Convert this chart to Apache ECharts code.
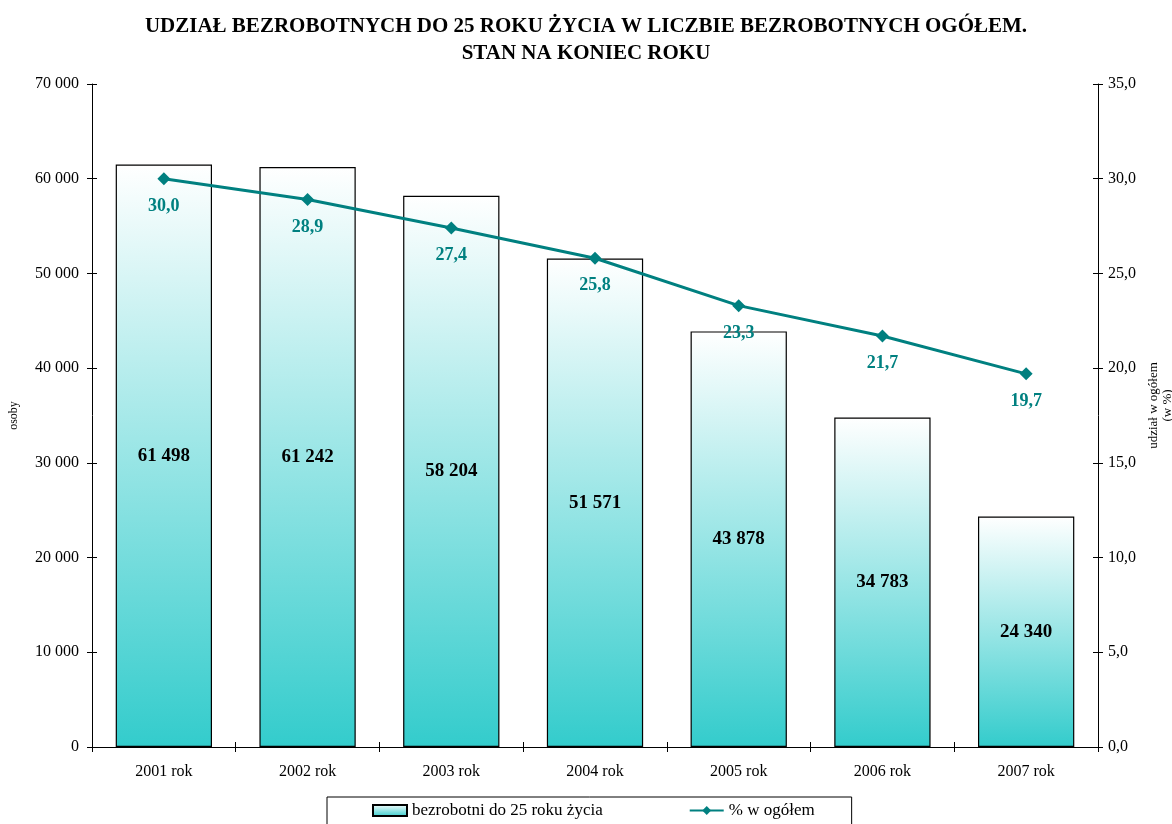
<!DOCTYPE html>
<html>
<head>
<meta charset="utf-8">
<script src="https://cdn.jsdelivr.net/npm/echarts@6/dist/echarts.min.js"></script>
<style>
  html, body { margin: 0; padding: 0; background: #fff; }
  #chart { width: 1172px; height: 824px; }
</style>
</head>
<body>
<div id="chart"></div>
<script>
  // dane
  var years = ['2001 rok', '2002 rok', '2003 rok', '2004 rok', '2005 rok', '2006 rok', '2007 rok'];
  var youngUnemployed = [61498, 61242, 58204, 51571, 43878, 34783, 24340];
  var sharePercent = [30.0, 28.9, 27.4, 25.8, 23.3, 21.7, 19.7];

  var serif = '"Liberation Serif", "DejaVu Serif", serif';
  var teal = '#008080';

  function thousands(v) {
    return String(v).replace(/\B(?=(\d{3})+(?!\d))/g, ' ');
  }
  function comma(v) {
    return Number(v).toFixed(1).replace('.', ',');
  }

  var chart = echarts.init(document.getElementById('chart'));
  var axisLine = { show: true, lineStyle: { color: '#000', width: 1 } };

  chart.setOption({
    animation: false,
    textStyle: { fontFamily: serif, color: '#000' },
    title: {
      text: 'UDZIAŁ BEZROBOTNYCH DO 25 ROKU ŻYCIA W LICZBIE BEZROBOTNYCH OGÓŁEM.\nSTAN NA KONIEC ROKU',
      left: 'center',
      top: 8,
      textStyle: { fontFamily: serif, fontSize: 21, fontWeight: 'bold', color: '#000', lineHeight: 27 }
    },
    legend: {
      left: 327,
      top: 797,
      padding: [5, 37, 14, 45],
      itemGap: 86,
      itemWidth: 34,
      itemHeight: 11,
      borderColor: '#000',
      borderWidth: 1,
      textStyle: { fontFamily: serif, fontSize: 17, color: '#000' },
      data: [
        { name: 'bezrobotni do 25 roku życia', icon: 'rect' },
        { name: '% w ogółem' }
      ]
    },
    grid: { left: 92, right: 74, top: 84, bottom: 77, outerBoundsMode: 'none' },
    xAxis: [
      {
        type: 'category',
        data: years,
        axisLine: axisLine,
        axisTick: { show: true, inside: false, length: 5, lineStyle: { color: '#000' } },
        axisLabel: { fontFamily: serif, fontSize: 16, color: '#000', margin: 17 }
      },
      {
        type: 'category',
        data: years,
        position: 'bottom',
        axisLine: { show: false },
        axisTick: { show: true, inside: true, length: 5, lineStyle: { color: '#000' } },
        axisLabel: { show: false }
      }
    ],
    yAxis: [
      {
        type: 'value',
        min: 0,
        max: 70000,
        interval: 10000,
        name: 'osoby',
        nameLocation: 'middle',
        nameRotate: 90,
        nameGap: 72,
        nameTextStyle: { fontFamily: serif, fontSize: 12, color: '#000' },
        axisLine: axisLine,
        axisTick: { show: true, length: 5, lineStyle: { color: '#000' } },
        splitLine: { show: false },
        axisLabel: { fontFamily: serif, fontSize: 16, color: '#000', margin: 13, formatter: thousands }
      },
      {
        type: 'value',
        min: 0,
        max: 35,
        interval: 5,
        position: 'right',
        name: 'udział w ogółem\n(w %)',
        nameLocation: 'middle',
        nameRotate: 90,
        nameGap: 44,
        nameTextStyle: { fontFamily: serif, fontSize: 13, color: '#000', lineHeight: 14, padding: [0, 0, 0, 20] },
        axisLine: axisLine,
        axisTick: { show: true, length: 5, lineStyle: { color: '#000' } },
        splitLine: { show: false },
        axisLabel: { fontFamily: serif, fontSize: 16, color: '#000', margin: 10, formatter: comma }
      },
      {
        type: 'value',
        min: 0,
        max: 70000,
        interval: 10000,
        position: 'left',
        axisLine: { show: false },
        axisTick: { show: true, inside: true, length: 5, lineStyle: { color: '#000' } },
        axisLabel: { show: false },
        splitLine: { show: false }
      },
      {
        type: 'value',
        min: 0,
        max: 35,
        interval: 5,
        position: 'right',
        axisLine: { show: false },
        axisTick: { show: true, inside: true, length: 5, lineStyle: { color: '#000' } },
        axisLabel: { show: false },
        splitLine: { show: false }
      }
    ],
    series: [
      {
        name: 'bezrobotni do 25 roku życia',
        type: 'bar',
        data: youngUnemployed,
        barWidth: '67%',
        itemStyle: {
          color: new echarts.graphic.LinearGradient(0, 0, 0, 1, [
            { offset: 0, color: '#ffffff' },
            { offset: 1, color: '#33cccc' }
          ]),
          borderColor: '#000',
          borderWidth: 1.2
        },
        label: {
          show: true,
          position: 'inside',
          fontFamily: serif,
          fontSize: 19,
          fontWeight: 'bold',
          color: '#000',
          formatter: function (p) { return thousands(p.value); }
        }
      },
      {
        name: '% w ogółem',
        type: 'line',
        yAxisIndex: 1,
        data: sharePercent,
        symbol: 'diamond',
        symbolSize: 13,
        lineStyle: { color: teal, width: 3 },
        itemStyle: { color: teal },
        label: {
          show: true,
          position: 'bottom',
          distance: 12,
          fontFamily: serif,
          fontSize: 18,
          fontWeight: 'bold',
          color: teal,
          formatter: function (p) { return comma(p.value); }
        },
        z: 5
      }
    ]
  });
</script>
</body>
</html>
